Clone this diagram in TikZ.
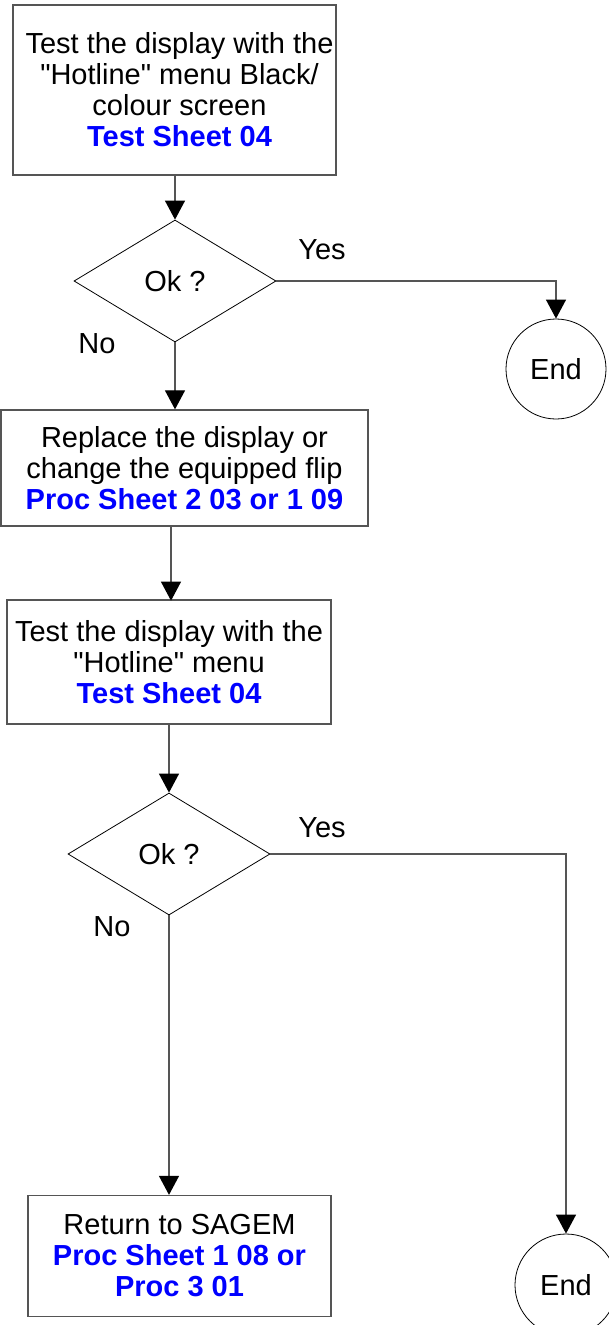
\documentclass[tikz,border=0pt]{standalone}
\usepackage{fontspec}
\setmainfont{Liberation Sans}[Ligatures=TeXOff]
\usetikzlibrary{arrows.meta,shapes.geometric}
\definecolor{linkblue}{RGB}{0,0,255}
\definecolor{linegray}{RGB}{85,85,85}
\tikzset{
  txt/.style={font=\fontsize{29}{31}\selectfont},
  procbox/.style={draw=linegray, line width=1.3pt, rectangle, align=center, inner sep=0pt, txt},
  decision/.style={draw=black, line width=0.8pt, diamond, inner sep=0pt, minimum width=202pt, minimum height=122pt, txt},
  endnode/.style={draw=black, line width=0.8pt, circle, minimum size=100pt, inner sep=0pt, txt},
  lbl/.style={txt, inner sep=0pt},
  conn/.style={draw=linegray, line width=1.2pt, -{Triangle[width=20pt,length=19pt,color=black,fill=black]}}
}
\newcommand{\blu}[1]{\textcolor{linkblue}{\textbf{#1}}}
\begin{document}
\begin{tikzpicture}[x=1pt,y=-1pt]
\useasboundingbox (0,0) rectangle (608,1325);

\node[procbox, minimum width=323pt, minimum height=170pt] (box1) at (174.5,90)
  {\hspace*{10pt}Test the display with the\\\hspace*{10pt}"Hotline" menu Black/\\\hspace*{10pt}colour screen\\\hspace*{10pt}\blu{Test Sheet 04}};
\node[decision] (d1) at (175,281) {Ok ?};
\node[endnode] (end1) at (556,369) {End};
\node[lbl] (yes1) at (322,250) {Yes};
\node[lbl] (no1) at (97,344) {No};

\node[procbox, minimum width=367pt, minimum height=116pt] (box2) at (184.5,468)
  {Replace the display or\\change the equipped flip\\\blu{Proc Sheet 2 03 or 1 09}};
\node[procbox, minimum width=324pt, minimum height=124pt] (box3) at (169,662)
  {Test the display with the\\"Hotline" menu\\\blu{Test Sheet 04}};

\node[decision] (d2) at (169,854) {Ok ?};
\node[lbl] (yes2) at (322,828) {Yes};
\node[lbl] (no2) at (112,927) {No};

\node[procbox, minimum width=303pt, minimum height=121pt] (box4) at (179.5,1256)
  {Return to SAGEM\\\blu{Proc Sheet 1 08 or}\\\blu{Proc 3 01}};
\node[endnode, minimum size=102pt] (end2) at (566,1285) {End};

\draw[conn] (box1.south -| d1.north) -- (d1.north);
\draw[conn] (d1.south) -- (d1.south |- box2.north);
\draw[conn] (box3.north |- box2.south) ++(2,0) -- ++(0,74);
\draw[conn] (box3.south -| d2.north) -- (d2.north);
\draw[conn] (d2.south) -- (d2.south |- box4.north);
\draw[conn] (d1.east) -| (end1.north);
\draw[conn] (d2.east) -| (end2.north);
\end{tikzpicture}
\end{document}
